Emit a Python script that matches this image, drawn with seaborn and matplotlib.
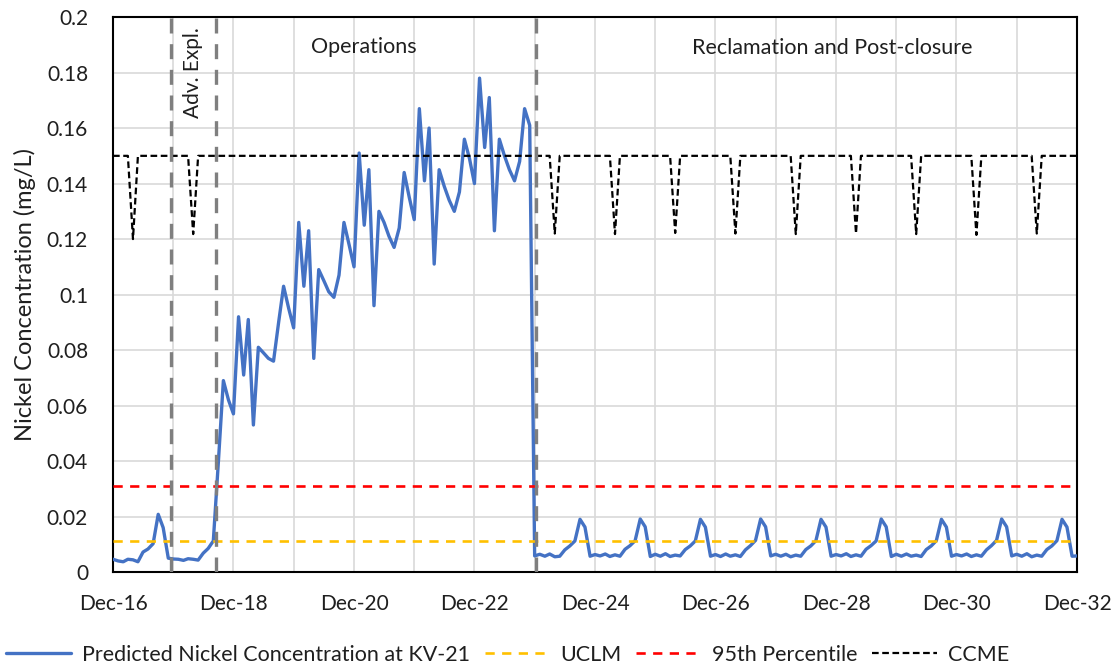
import pandas as pd
import matplotlib
matplotlib.use("Agg")
import matplotlib.pyplot as plt
import matplotlib.dates as mdates
from matplotlib.ticker import FuncFormatter, MultipleLocator
import seaborn as sns

# monthly series, Dec-16 .. Dec-32
start_month = "2016-12-01"

# Dec-16 .. Aug-18 (pre-development / advanced exploration)
pre_values = [
    0.0046, 0.0040, 0.0037, 0.0046, 0.0044, 0.0037, 0.0072, 0.0083, 0.0102, 0.0208, 0.0160, 0.0050,
    0.0047, 0.0046, 0.0042, 0.0048, 0.0046, 0.0043, 0.0068, 0.0085, 0.0112,
]
# Sep-18 .. Nov-23 (operations)
ops_values = [
    0.040, 0.069, 0.062,
    0.057, 0.092, 0.071, 0.091, 0.053, 0.081, 0.079, 0.077, 0.076, 0.090, 0.103, 0.095,
    0.088, 0.126, 0.103, 0.123, 0.077, 0.109, 0.105, 0.101, 0.099, 0.107, 0.126, 0.118,
    0.110, 0.151, 0.125, 0.145, 0.096, 0.130, 0.126, 0.121, 0.117, 0.124, 0.144, 0.135,
    0.127, 0.167, 0.141, 0.160, 0.111, 0.145, 0.139, 0.134, 0.130, 0.137, 0.156, 0.149,
    0.140, 0.178, 0.153, 0.171, 0.123, 0.156, 0.150, 0.145, 0.141, 0.148, 0.167, 0.161,
]
# Dec-23 .. Dec-32 (reclamation and post-closure)
post_values = [
    0.0058, 0.0064, 0.0057, 0.0065, 0.0055, 0.0057, 0.0080, 0.0094, 0.0112, 0.0190, 0.0162,
    0.0057, 0.0063, 0.0058, 0.0065, 0.0056, 0.0062, 0.0057, 0.0082, 0.0095, 0.0113, 0.0191, 0.0163,
    0.0056, 0.0064, 0.0057, 0.0066, 0.0056, 0.0061, 0.0058, 0.0081, 0.0094, 0.0112, 0.0190, 0.0162,
    0.0057, 0.0063, 0.0056, 0.0065, 0.0057, 0.0062, 0.0056, 0.0080, 0.0095, 0.0114, 0.0191, 0.0163,
    0.0058, 0.0064, 0.0057, 0.0064, 0.0055, 0.0061, 0.0057, 0.0081, 0.0094, 0.0113, 0.0190, 0.0162,
    0.0057, 0.0063, 0.0058, 0.0066, 0.0056, 0.0062, 0.0057, 0.0082, 0.0095, 0.0112, 0.0191, 0.0163,
    0.0056, 0.0064, 0.0057, 0.0065, 0.0057, 0.0061, 0.0056, 0.0081, 0.0094, 0.0113, 0.0190, 0.0162,
    0.0057, 0.0063, 0.0058, 0.0065, 0.0056, 0.0062, 0.0057, 0.0080, 0.0095, 0.0114, 0.0191, 0.0163,
    0.0058, 0.0064, 0.0057, 0.0066, 0.0055, 0.0061, 0.0057, 0.0081, 0.0094, 0.0113, 0.0190, 0.0162,
    0.0057, 0.0058,
]

uclm = 0.0112
p95 = 0.0311

ccme_level = 0.15
ccme_dip_months = ["2017-04-01", "2018-04-01", "2024-04-01", "2025-04-01", "2026-04-01",
                   "2027-04-01", "2028-04-01", "2029-04-01", "2030-04-01", "2031-04-01", "2032-04-01"]
ccme_dip_values = [0.1200, 0.1218, 0.1220, 0.1218, 0.1222, 0.1220, 0.1218, 0.1220, 0.1218, 0.1215, 0.1220]

phase_lines = ["2017-11-15", "2018-08-15", "2023-12-10"]
phase_labels = ["Adv. Expl.", "Operations", "Reclamation and Post-closure"]
phase_label_x = ["2018-04-01", "2021-02-01", "2028-11-10"]
phase_label_y = [0.180, 0.1893, 0.1887]

nickel = pre_values + ops_values + post_values
dates = pd.date_range(start_month, periods=len(nickel), freq="MS")
df = pd.DataFrame({"date": dates, "nickel": nickel})
df["ccme"] = ccme_level
dips = pd.Series(ccme_dip_values, index=pd.to_datetime(ccme_dip_months))
df.loc[df["date"].isin(dips.index), "ccme"] = df["date"].map(dips)

sns.set_theme(style="white")
plt.rcParams["font.family"] = ["Lato", "DejaVu Sans"]
txt = "#1F1F1F"

fig = plt.figure(figsize=(11.19, 6.71), dpi=100)
ax = fig.add_axes([0.101, 0.1475, 0.8615, 0.827])

sns.lineplot(data=df, x="date", y="nickel", ax=ax, color="#4472C4", lw=2.4,
             label="Predicted Nickel Concentration at KV-21", zorder=3)
ax.axhline(uclm, color="#FFC000", lw=1.9, ls=(0, (3.5, 2.8)), label="UCLM", zorder=3)
ax.axhline(p95, color="#FF0000", lw=1.9, ls=(0, (3.5, 2.8)), label="95th Percentile", zorder=3)
sns.lineplot(data=df, x="date", y="ccme", ax=ax, color="black", lw=1.6,
             label="CCME", zorder=4)
ax.lines[-1].set_linestyle((0, (3, 1.6)))

for d in phase_lines:
    ax.axvline(pd.Timestamp(d), color="#7F7F7F", lw=2.4, ls=(0, (4.5, 3.2)), zorder=5)

for lab, x, y in zip(phase_labels, phase_label_x, phase_label_y):
    rot = 90 if lab.startswith("Adv") else 0
    ax.text(pd.Timestamp(x), y, lab, rotation=rot, ha="center", va="center",
            fontsize=15.5 if rot == 0 else 15, color=txt)

ax.set_xlim(pd.Timestamp("2016-12-01"), pd.Timestamp("2032-12-01"))
ax.set_ylim(0, 0.2)
ax.yaxis.set_major_locator(MultipleLocator(0.02))
ax.yaxis.set_major_formatter(FuncFormatter(lambda v, p: f"{v:.2f}".rstrip("0").rstrip(".") if v else "0"))
ax.xaxis.set_major_locator(mdates.YearLocator(2, month=12, day=1))
ax.xaxis.set_minor_locator(mdates.YearLocator(1, month=12, day=1))
ax.xaxis.set_major_formatter(mdates.DateFormatter("%b-%y"))

ax.grid(True, which="both", color="#D9D9D9", lw=1.2, zorder=0)
ax.set_axisbelow(True)
for s in ax.spines.values():
    s.set_color("black")
    s.set_linewidth(1.5)
ax.tick_params(axis="both", which="both", length=0, labelsize=15, colors=txt)
ax.tick_params(axis="y", pad=18)
ax.tick_params(axis="x", pad=16)

ax.set_xlabel("")
ax.set_ylabel("Nickel Concentration (mg/L)", fontsize=17, color=txt, labelpad=8)

handles, labels = ax.get_legend_handles_labels()
ax.get_legend().remove()
fig.legend(handles, labels, loc="center", bbox_to_anchor=(0.4535, 0.024), ncol=4,
           frameon=False, fontsize=15.5, handlelength=3.0, handletextpad=0.5,
           columnspacing=0.7, labelcolor=txt)

fig.savefig("out.png", dpi=100)
